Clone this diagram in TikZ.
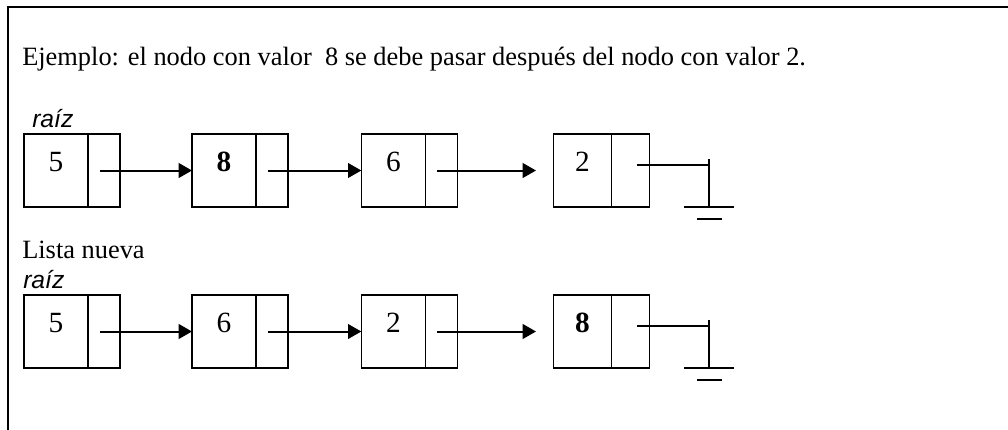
\documentclass[tikz,border=0pt]{standalone}
\usepackage{fontspec}
\setmainfont{Liberation Serif}
\newfontfamily\arial{Liberation Sans}
\usetikzlibrary{positioning,arrows.meta}
\begin{document}
\begin{tikzpicture}[x=0.75pt,y=-0.75pt]
    \tikzset{dato/.style={draw,line width=1.1pt,inner sep=0pt,outer sep=0pt,minimum
        width=48pt,minimum height=54.75pt,text depth=12.5pt,font=\fontsize{22}{24}\selectfont},
      enlace/.style={dato,minimum width=24pt},
      flecha/.style={-{Triangle[length=10pt,width=11pt]},line width=1.5pt},
      raiz/.style={anchor=base west,inner sep=0pt,font=\arial\itshape\fontsize{18.5}{20}\selectfont},
      texto/.style={anchor=base west,inner sep=0pt,font=\fontsize{19.8}{22}\selectfont},
      tierra/.pic={\draw[line width=1.1pt] (0,0) -- (54pt,0) (54pt,4.5pt) -- (54pt,-31.5pt)
        (35.25pt,-31.5pt) -- (72.75pt,-31.5pt) (45pt,-40.5pt) -- (63.75pt,-40.5pt);}}
    \useasboundingbox (0,0) rectangle (1008,429);
    \draw[line width=1.5pt] (8,440) -- (8,6.7) -- (1020,6.7);

    \node[texto] (ej) at (22,65) {Ejemplo: el nodo con valor\ \ 8 se debe pasar después del nodo con valor 2.};

    % lista original
    \node[raiz] (r1) at (32,127) {raíz};
    \node[dato] (a1) at (56,170.5) {5};
    \node[enlace] (b1) [right=0pt of a1] {};
    \node[dato] (a2) [right=54pt of b1] {\bf 8};
    \node[enlace] (b2) [right=0pt of a2] {};
    \node[dato] (a3) [right=55pt of b2] {6};
    \node[enlace] (b3) [right=0pt of a3] {};
    \node[dato,minimum width=43.5pt] (a4) [right=72pt of b3] {2};
    \node[enlace,minimum width=28.5pt] (b4) [right=0pt of a4] {};

    \draw[flecha] ([xshift=-3pt]b1.center) -- (a2);
    \draw[flecha] ([xshift=-3pt]b2.center) -- (a3);
    \draw[flecha] ([xshift=-3pt]b3.center) -- ([xshift=-13pt]a4.west);
    \pic at ([xshift=5pt,yshift=4pt]b4.center) {tierra};

    % lista nueva
    \node[texto] (ln) at (22,258) {Lista nueva};
    \node[raiz] (r2) at (23,288) {raíz};
    \node[dato] (c1) at (56,331.5) {5};
    \node[enlace] (d1) [right=0pt of c1] {};
    \node[dato] (c2) [right=54pt of d1] {6};
    \node[enlace] (d2) [right=0pt of c2] {};
    \node[dato] (c3) [right=55pt of d2] {2};
    \node[enlace] (d3) [right=0pt of c3] {};
    \node[dato,minimum width=43.5pt] (c4) [right=72pt of d3] {\bf 8};
    \node[enlace,minimum width=28.5pt] (d4) [right=0pt of c4] {};

    \draw[flecha] ([xshift=-3pt]d1.center) -- (c2);
    \draw[flecha] ([xshift=-3pt]d2.center) -- (c3);
    \draw[flecha] ([xshift=-3pt]d3.center) -- ([xshift=-13pt]c4.west);
    \pic at ([xshift=5pt,yshift=4pt]d4.center) {tierra};
\end{tikzpicture}
\end{document}
